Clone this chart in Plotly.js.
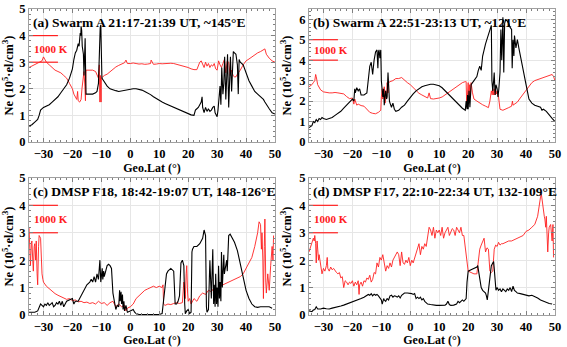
<!DOCTYPE html>
<html><head><meta charset="utf-8">
<script src="https://cdn.plot.ly/plotly-3.0.1.min.js"></script>
<style>body{margin:0;padding:0;background:#fff}#c{width:567px;height:347px}</style>
</head><body><div id="c"></div>
<script>
// Panel (a) Swarm A 21:17-21:39 UT
const latA_ne = [-35,-34,-33,-32,-31.5,-31,-30,-29,-28,-27,-26,-25,-24,-23,-22,-21,-20,-19.5,-19,-18.5,-18.2,-18,-17.7,-17.5,-17.3,-17.1,-17,-16.8,-16.6,-16.4,-16.2,-16,-15.8,-15.6,-15.4,-15.3,-15,-14,-13,-12,-11.5,-11,-10.7,-10.4,-10.2,-10,-9.8,-9.5,-9,-8,-7,-6,-5,-4,-3,-2,-1,0,1,2,3,4,5,6,7,8,9,10,11,12,13,14,15,16,17,18,19,20,21,22,22.5,23,23.5,24,24.5,24.8,25,25.5,26,26.5,27,27.5,28,28.5,29,29.3,29.6,30,30.3,30.6,31,31.3,31.6,32,32.3,32.6,33,33.3,33.6,34,34.3,34.6,35,35.3,35.6,36,36.5,37,37.3,37.6,38,39,40,41,42,43,44,45,46,46.5,47,48,49,50];
const neA = [0.6,0.65,0.75,0.85,1.0,1.2,1.3,1.35,1.4,1.5,1.6,1.7,1.85,2.0,2.15,2.4,2.75,3.1,3.35,3.45,3.55,3.7,3.6,4.0,4.1,4.0,4.35,4.2,3.6,3.4,3.3,2.5,3.5,3.9,2.3,1.8,1.8,1.8,1.8,1.85,1.9,2.2,3.6,4.3,4.4,2.5,2.4,2.35,2.25,2.1,2.0,1.95,1.93,1.9,1.92,1.95,1.97,2.0,2.0,2.0,1.98,1.95,1.9,1.85,1.78,1.7,1.63,1.55,1.5,1.45,1.4,1.35,1.3,1.25,1.2,1.15,1.1,1.05,1.02,1.0,1.2,1.25,1.3,1.4,1.5,1.7,1.3,1.1,1.3,1.15,1.25,1.15,1.2,1.3,1.35,1.1,1.0,0.95,1.2,1.5,2.1,1.4,2.8,1.8,2.2,3.2,1.6,2.4,3.3,1.3,2.1,3.2,1.9,2.8,3.4,3.35,3.3,2.9,1.8,3.1,3.0,2.9,2.6,2.3,2.1,1.9,1.8,1.7,1.6,1.5,1.4,1.25,1.1,1.05,1.0];
const latA_t = [-35,-34,-33,-32,-31,-30.5,-30,-29.5,-29,-28,-27,-26,-25,-24,-23,-22,-21,-20,-19.5,-19,-18.5,-18.2,-18,-17.5,-17,-16.7,-16.4,-16,-15.7,-15.5,-15.3,-15,-14,-13,-12,-11.5,-11,-10.7,-10.5,-10.3,-10.1,-10,-9.5,-9,-8,-7,-6,-5,-4,-3,-2,-1.5,-1,0,1,2,3,4,5,6,7,7.2,8,9,10,11,12,13,14,15,16,17,18,19,20,21,22,23,23.5,24,24.5,25,25.5,26,26.5,27,27.5,28,28.5,29,29.5,30,30.5,31,31.5,32,32.5,33,33.5,34,34.5,35,35.5,36,36.5,37,38,39,40,41,42,43,44,45,46,46.5,47,48,49,50];
const tA = [2.8,2.85,2.9,2.95,3.0,3.05,3.2,3.1,3.0,2.9,2.8,2.7,2.65,2.6,2.5,2.4,2.2,2.0,1.8,1.7,1.6,1.9,1.55,1.5,1.6,2.0,2.3,2.65,2.1,1.55,2.7,2.7,2.72,2.7,2.65,2.55,2.4,2.9,1.5,2.5,1.5,2.4,2.45,2.5,2.55,2.65,2.75,2.82,2.88,2.92,2.98,3.08,2.95,2.95,2.97,2.95,2.93,2.94,2.92,2.93,2.95,3.08,2.92,2.93,2.95,2.94,2.95,2.94,2.96,2.95,2.92,2.9,2.87,2.85,2.8,2.75,2.72,2.72,2.85,3.0,3.05,2.9,2.8,3.0,2.85,2.95,2.8,2.9,2.85,2.95,2.75,2.7,3.05,2.9,2.8,2.95,3.1,2.6,3.05,3.0,2.5,2.7,2.5,2.45,2.45,2.55,2.7,2.9,3.05,3.12,3.2,3.28,3.35,3.4,3.45,3.5,3.3,3.15,3.05,3.0];

// Panel (b) Swarm A 22:51-23:13 UT
const latB_ne = [-35,-34,-33.5,-33,-32.5,-32,-31.5,-31,-30.5,-30,-29,-28,-27,-26,-25,-24,-23,-22,-21,-20,-19.5,-19.2,-19,-18.5,-18,-17.5,-17,-16,-15,-14.5,-14,-13.5,-13,-12.5,-12,-11.5,-11.2,-11,-10.8,-10.5,-10.2,-10,-9.7,-9.5,-9.2,-9,-8.7,-8.5,-8.2,-8,-7.7,-7.5,-7.2,-7,-6.5,-6,-5.5,-5,-4,-3,-2,-1,0,1,2,3,4,5,6,7,8,9,10,11,12,13,14,15,16,17,18,19,19.3,19.6,19.8,20,20.3,20.6,21,22,23,23.5,24,24.5,25,26,27,27.5,28,28.2,28.5,28.8,29,29.3,29.6,30,30.3,30.6,31,31.3,31.6,32,32.3,32.6,33,33.5,34,34.5,35,35.2,35.5,35.8,36,36.5,37,37.5,38,39,40,41,42,43,44,45,45.5,46,47,48,49,50];
const neB = [0.7,0.8,1.0,0.95,1.1,1.0,1.15,1.1,1.2,1.15,1.1,1.15,1.2,1.3,1.4,1.5,1.65,1.8,1.95,2.1,2.0,2.6,2.4,2.65,2.5,2.6,2.3,2.3,2.4,3.0,3.7,3.9,3.3,4.0,4.4,4.5,3.6,4.4,4.5,4.1,4.5,3.0,2.5,2.2,2.6,1.8,2.3,2.5,2.1,2.2,3.4,2.6,2.0,1.9,1.7,1.9,1.6,1.5,1.55,1.7,1.8,2.0,2.2,2.35,2.5,2.6,2.7,2.75,2.8,2.82,2.82,2.8,2.75,2.65,2.5,2.35,2.2,2.05,1.9,1.78,1.65,1.55,2.0,1.6,2.3,1.6,2.5,1.7,2.8,3.0,3.2,3.5,3.7,3.5,4.2,4.8,5.3,5.5,5.7,3.0,2.5,3.0,3.4,2.3,2.8,2.6,2.2,2.6,3.4,5.5,4.0,6.1,3.4,5.8,6.0,5.9,5.8,5.6,5.5,3.6,5.0,4.2,5.2,4.6,5.0,4.6,4.2,3.5,2.8,2.1,1.9,1.8,1.75,1.7,1.55,1.6,1.5,1.3,1.15,1.0];
const latB_t = [-35,-34,-33.5,-33,-32.7,-32.5,-32,-31,-30,-29,-28,-27,-26,-25,-24,-23,-22,-21,-20,-19.5,-19.2,-19,-18.5,-18,-17.5,-17,-16,-15,-14,-13,-12,-11,-10.2,-10,-9.7,-9.5,-9.2,-9,-8.7,-8.5,-8.2,-8,-7.7,-7.5,-7,-6,-5,-4,-3,-2,-1,0,1,2,3,4,5,6,6.5,7,8,9,10,11,12,13,14,15,16,17,18,19,19.3,19.5,19.8,20,20.3,20.5,20.8,21,21.5,22,23,24,25,26,27,27.5,28,28.3,28.5,28.8,29,29.3,29.5,29.8,30,30.5,31,32,33,34,35,35.3,35.5,36,37,38,39,40,41,42,43,44,45,46,47,48,49,49.5,50];
const tB = [2.7,2.8,2.9,3.0,3.3,3.2,2.8,2.55,2.45,2.42,2.4,2.4,2.42,2.4,2.38,2.35,2.22,2.12,2.15,1.85,2.1,2.0,1.8,1.85,1.8,1.78,1.75,1.6,1.45,1.4,1.38,1.45,1.55,2.2,2.6,2.1,2.4,2.7,1.9,2.5,2.1,2.9,2.4,2.9,2.95,3.0,3.1,3.1,3.15,3.0,2.9,2.8,2.65,2.5,2.38,2.3,2.22,2.15,2.4,2.12,2.1,2.12,2.15,2.2,2.3,2.4,2.5,2.6,2.7,2.8,2.9,2.95,2.95,1.7,2.9,2.9,1.9,2.8,2.2,2.9,2.4,2.1,2.0,1.9,1.82,1.75,1.68,2.0,2.5,2.3,2.6,2.3,2.6,2.3,2.5,2.35,2.5,2.2,1.6,1.55,1.6,1.68,1.75,2.0,1.8,1.85,1.95,2.15,2.35,2.55,2.75,2.9,3.0,3.05,3.1,3.15,3.18,3.22,3.3,3.2,3.0];

// Panel (c) DMSP F18, 18:42-19:07 UT
const latC_ne = [-35,-34,-33,-32,-31.5,-31,-30.5,-30,-29.5,-29,-28.5,-28,-27.5,-27,-26.5,-26,-25.5,-25,-24.5,-24,-23.5,-23,-22,-21,-20,-19.5,-19,-18,-17,-16,-15,-14,-13.5,-13,-12.5,-12,-11.5,-11,-10.7,-10.5,-10.2,-10,-9.7,-9.5,-9.2,-9,-8.5,-8,-7.5,-7,-6.5,-6.2,-6,-5.5,-5,-4.5,-4,-3.7,-3.5,-3.2,-3,-2.7,-2.5,-2.2,-2,-1.5,-1,0,1,1.5,2,3,5,7,9,10,11,11.5,12,12.5,13,14,15,15.3,15.5,16,16.5,17,17.3,17.5,18,18.5,18.8,19,19.5,20,20.5,21,21.3,21.5,22,23,24,25,25.5,26,26.3,26.5,27,27.5,28,28.3,28.5,28.8,29,29.3,29.5,29.8,30,30.3,30.5,30.8,31,31.3,31.5,31.8,32,32.3,32.5,33,33.3,33.5,34,34.5,35,36,37,38,39,40,41,42,43,44,45,46,47,48,49,50];
const neC = [0.1,0.1,0.1,0.15,0.3,0.4,0.35,0.3,0.4,0.35,0.45,0.35,0.4,0.45,0.3,0.35,0.45,0.4,0.5,0.35,0.5,0.3,0.5,0.55,0.6,0.4,0.5,0.5,0.7,0.9,1.1,1.2,1.3,1.2,1.4,1.2,1.5,1.3,1.6,2.0,1.2,1.5,1.7,1.3,1.6,1.4,1.6,1.8,1.85,1.8,1.7,1.2,0.8,0.5,0.2,0.35,0.3,0.9,0.5,0.85,0.4,0.75,0.2,0.5,0.15,0.35,0.1,0.15,0.2,0.1,0.05,0.02,0.02,0.02,0.02,0.02,0.05,0.6,1.2,1.5,1.6,1.7,1.6,0.5,0.4,0.4,0.5,0.7,1.2,1.9,2.0,1.8,0.4,0.05,0.15,0.2,0.05,0.1,2.3,2.4,2.5,2.5,2.6,2.8,3.1,2.9,0.3,0.1,0.2,2.0,0.6,1.5,2.4,0.4,1.1,0.3,1.5,0.4,1.0,0.3,1.8,0.6,1.2,0.5,2.3,1.0,1.5,2.2,1.5,1.8,2.0,1.6,2.9,2.95,2.85,2.65,2.35,1.85,1.35,0.9,0.6,0.4,0.3,0.28,0.3,0.3,0.32,0.3,0.25];
const latC_t = [-35,-34.7,-34.5,-34.2,-34,-33.7,-33.5,-33.2,-33,-32.7,-32.5,-32.2,-32,-31.7,-31.5,-31,-30.7,-30.5,-30.2,-30,-29,-28,-27,-26,-25,-24,-23,-22,-21,-20,-19,-18,-17,-16,-15,-14,-13,-12,-11,-10,-9,-8,-7,-6,-5,-4,-3,-2,-1.5,-1,0,1,2,3,4,5,6,7,8,9,10,11,11.3,11.5,12,13,14,15,16,17,18,18.5,19,19.3,19.5,19.8,20,20.5,21,22,23,24,25,26,27,28,29,30,31,32,33,34,35,36,37,38,39,40,41,42,43,44,44.5,45,45.3,45.5,45.8,46,46.3,46.5,46.8,47,47.5,48,48.5,49,49.3,49.5,50];
const tC = [3.2,2.2,1.8,2.6,2.7,2.0,1.6,2.5,2.6,2.0,2.7,1.5,1.1,2.5,2.9,2.8,1.8,1.5,1.3,1.2,1.05,0.95,0.85,0.78,0.72,0.66,0.62,0.57,0.6,0.52,0.55,0.48,0.5,0.45,0.47,0.42,0.45,0.4,0.5,0.42,0.45,0.35,0.45,0.5,0.3,0.4,0.3,0.35,0.15,0.25,0.3,0.4,0.6,0.7,0.8,0.9,0.95,1.0,1.05,1.0,1.05,1.0,1.1,0.4,0.35,0.4,0.38,0.42,0.45,0.42,0.45,1.2,0.6,1.5,1.8,0.8,0.5,0.6,0.4,0.6,0.5,0.7,0.8,0.75,0.9,0.85,1.0,0.9,1.05,1.1,1.15,1.2,1.25,1.3,1.35,1.4,1.5,1.7,1.9,2.1,2.5,3.0,3.4,3.3,2.4,3.0,2.0,0.6,2.5,3.5,1.2,0.8,1.5,0.9,1.8,2.5,2.0,2.9];

// Panel (d) DMSP F17, 22:10-22:34 UT
const latD_ne = [-35,-34,-33.5,-33,-32.5,-32,-31,-30,-29,-28,-27,-26,-25,-24,-23,-22,-21,-20,-19,-18,-17,-16,-15,-14.5,-14,-13.5,-13,-12.5,-12,-11.5,-11,-10.5,-10,-9.7,-9.5,-9.2,-9,-8.5,-8,-7.5,-7,-6.5,-6,-5.5,-5,-4.5,-4,-3.5,-3,-2.5,-2,-1,0,0.5,1,1.5,2,2.5,3,3.5,4,4.5,5,5.5,6,7,8,9,10,11,12,12.5,13,13.5,14,15,16,16.5,17,17.5,18,18.5,19,19.3,19.6,20,21,22,23,23.3,23.6,24,24.5,25,25.5,26,26.3,26.6,27,27.5,28,28.5,28.8,29,29.3,29.6,30,30.5,31,31.5,32,32.5,33,33.5,34,34.5,35,35.5,36,36.5,37,38,39,40,41,42,43,44,45,46,47,48,49,50];
const neD = [0.15,0.12,0.18,0.2,0.3,0.22,0.22,0.25,0.23,0.22,0.25,0.27,0.3,0.33,0.36,0.4,0.43,0.46,0.5,0.55,0.6,0.65,0.7,0.75,0.72,0.78,0.7,0.76,0.72,0.75,0.7,0.6,0.55,0.4,0.5,0.6,0.55,0.5,0.6,0.55,0.7,0.72,0.65,0.7,0.68,0.65,0.7,0.62,0.72,0.75,0.8,0.8,0.8,0.78,0.75,0.78,0.6,0.65,0.6,0.65,0.55,0.6,0.5,0.45,0.4,0.38,0.36,0.35,0.35,0.35,0.36,0.4,0.5,0.38,0.35,0.36,0.4,0.5,0.45,0.5,0.55,0.5,0.55,0.6,1.2,1.6,1.65,1.7,1.75,1.8,1.6,1.3,1.0,0.9,0.85,0.8,0.7,0.55,0.9,1.5,1.8,1.9,1.95,1.7,1.2,0.9,1.0,0.9,0.95,0.85,0.95,0.9,0.85,0.95,0.9,1.0,0.85,1.05,0.9,0.85,0.8,0.78,0.75,0.72,0.7,0.72,0.68,0.62,0.55,0.5,0.45,0.42,0.4];
const latD_t = [-35,-34.5,-34,-33.5,-33.2,-33,-32.7,-32.5,-32.2,-32,-31.7,-31.5,-31,-30.5,-30,-29.5,-29,-28.7,-28.5,-28,-27.5,-27,-26.5,-26,-25.5,-25,-24.5,-24,-23.5,-23,-22.5,-22,-21.5,-21,-20.5,-20,-19.5,-19,-18.5,-18,-17.7,-17.5,-17,-16.5,-16,-15.5,-15,-14.5,-14,-13.5,-13,-12.5,-12,-11.5,-11,-10.5,-10,-9.5,-9,-8.5,-8,-7.5,-7,-6.5,-6,-5.5,-5,-4.5,-4,-3.5,-3,-2.5,-2,-1.5,-1,-0.5,0,0.5,1,1.5,2,2.5,3,3.5,4,4.5,5,5.5,6,6.5,7,7.5,8,8.5,9,9.5,10,10.5,11,11.5,12,12.5,13,13.5,14,14.5,15,15.5,16,16.5,17,17.5,18,18.5,19,19.5,20,21,22,23,23.5,24,24.5,25,25.5,26,26.5,27,27.5,28,28.5,29,29.5,30,30.5,31,31.5,32,33,34,35,36,37,38,39,40,41,42,43,44,44.5,45,45.3,45.5,45.8,46,46.3,46.5,46.8,47,47.3,47.5,47.8,48,48.5,49,49.3,49.5,49.8,50];
const tD = [2.3,2.5,2.6,2.8,2.7,2.9,2.6,1.9,2.7,2.5,2.0,2.2,1.9,1.5,1.7,1.6,1.8,2.1,1.7,1.6,1.75,1.65,1.7,1.6,1.55,1.5,1.55,1.35,1.4,1.0,1.25,1.2,1.1,1.2,1.15,1.25,1.05,1.2,1.1,1.25,0.75,1.1,1.2,1.05,1.25,1.2,1.35,1.3,1.45,1.2,1.3,1.55,1.5,1.9,1.75,2.1,2.0,2.2,1.95,1.6,1.8,1.7,1.9,1.75,2.0,2.1,2.2,2.3,2.2,1.8,2.3,1.9,1.85,2.0,1.9,2.1,1.8,2.0,1.9,2.1,2.3,2.4,2.6,2.2,2.5,2.4,2.6,2.5,2.9,3.2,3.1,2.9,3.2,2.8,3.1,3.0,3.1,2.9,3.2,2.8,3.0,3.1,3.2,2.9,3.0,3.15,3.1,2.9,3.2,3.1,3.0,3.2,2.9,2.9,2.5,1.9,1.6,1.55,1.5,1.5,2.0,2.4,2.55,2.65,2.8,2.3,2.45,2.4,1.6,1.55,1.6,2.4,2.55,2.5,2.65,2.55,2.6,2.6,2.65,2.7,2.7,2.75,2.8,2.85,2.9,3.05,3.1,3.2,3.3,3.6,4.0,4.3,4.4,4.2,4.0,3.8,3.6,3.5,3.2,3.6,2.5,2.3,3.0,3.2,3.3,2.7,3.3,2.1];

// Temperature scale bar (1000 K) and tick values
const barX = [-35,-25];
const barLowABCD = [3,4,3,3];
const barHighABCD = [4,5,4,4];
const panelTitles = ['(a) Swarm A 21:17-21:39 UT, ~145°E','(b) Swarm A 22:51-23:13 UT, ~121°E','(c) DMSP F18, 18:42-19:07 UT, 148-126°E','(d) DMSP F17, 22:10-22:34 UT, 132-109°E'];
const yMax = [5,6.5,5,5];
const yTicksABCD = [[0,1,2,3,4,5],[0,1,2,3,4,5,6],[0,1,2,3,4,5],[0,1,2,3,4,5]];
const xTicks = [-30,-20,-10,0,10,20,30,40,50];

const panels = [
  {lx:latA_ne, ne:neA, lt:latA_t, t:tA},
  {lx:latB_ne, ne:neB, lt:latB_t, t:tB},
  {lx:latC_ne, ne:neC, lt:latC_t, t:tC},
  {lx:latD_ne, ne:neD, lt:latD_t, t:tD}
];

const FAM = 'Liberation Serif';
const font = {family:FAM, size:13, color:'#000'};
const traces = [];
const layout = {
  width:567, height:347, margin:{l:29,r:12,t:9,b:32},
  paper_bgcolor:'#fff', plot_bgcolor:'#fff', showlegend:false,
  font:font, annotations:[]
};
const xDom = [[0,0.4677],[0.5323,1],[0,0.4677],[0.5323,1]];
const yDom = [[0.5654,1],[0.5654,1],[0,0.448],[0,0.448]];

panels.forEach((p,i)=>{
  const n = i+1;
  const xa = 'x'+(n===1?'':n), ya = 'y'+(n===1?'':n);
  traces.push({x:p.lt, y:p.t, xaxis:xa, yaxis:ya, mode:'lines', line:{color:'#ff2020', width:0.9}, hoverinfo:'skip'});
  traces.push({x:p.lx, y:p.ne, xaxis:xa, yaxis:ya, mode:'lines', line:{color:'#000', width:1.1}, hoverinfo:'skip'});
  traces.push({x:barX, y:[barLowABCD[i],barLowABCD[i]], xaxis:xa, yaxis:ya, mode:'lines', line:{color:'#ff2020', width:1.2}, hoverinfo:'skip'});
  traces.push({x:barX, y:[barHighABCD[i],barHighABCD[i]], xaxis:xa, yaxis:ya, mode:'lines', line:{color:'#ff2020', width:1.2}, hoverinfo:'skip'});
  const axCommon = {showline:true, linecolor:'#a0a0a0', linewidth:1, mirror:'allticks', ticks:'inside', ticklen:4, tickcolor:'#808080',
    showgrid:true, gridcolor:'#e6e6e6', gridwidth:1, zeroline:false, ticklabeloverflow:'allow', automargin:false,
    tickfont:{family:FAM, size:12.5, color:'#000', weight:'bold'}};
  layout['xaxis'+(n===1?'':n)] = Object.assign({}, axCommon, {domain:xDom[i], anchor:ya, range:[-35,50], tickmode:'array', tickvals:xTicks,
    minor:{ticks:'inside', ticklen:2, dtick:2, tick0:0, tickcolor:'#808080', showgrid:false},
    title:{text:'Geo.Lat (°)', font:{family:FAM, size:12, color:'#000', weight:'bold'}, standoff:1}});
  layout['yaxis'+(n===1?'':n)] = Object.assign({}, axCommon, {domain:yDom[i], anchor:xa, range:[0,yMax[i]], tickmode:'array', tickvals:yTicksABCD[i],
    minor:{ticks:'inside', ticklen:2, dtick:0.2, tick0:0, tickcolor:'#808080', showgrid:false},
    title:{text:'Ne (10<sup>5</sup>·el/cm<sup>3</sup>)', font:{family:FAM, size:12.5, color:'#000', weight:'bold'}, standoff:4}});
  layout.annotations.push({xref:xa+' domain', yref:ya+' domain', x:0.01, y:0.97, xanchor:'left', yanchor:'top', showarrow:false,
    text:panelTitles[i], font:{family:FAM, size:13.5, color:'#000', weight:'bold'}});
  layout.annotations.push({xref:xa, yref:ya, x:-34, y:(barLowABCD[i]+barHighABCD[i])/2, xanchor:'left', yanchor:'middle', showarrow:false,
    text:'1000 K', font:{family:FAM, size:11, color:'#ff2020', weight:'bold'}});
});

Plotly.newPlot('c', traces, layout, {staticPlot:true, displayModeBar:false});
</script></body></html>
